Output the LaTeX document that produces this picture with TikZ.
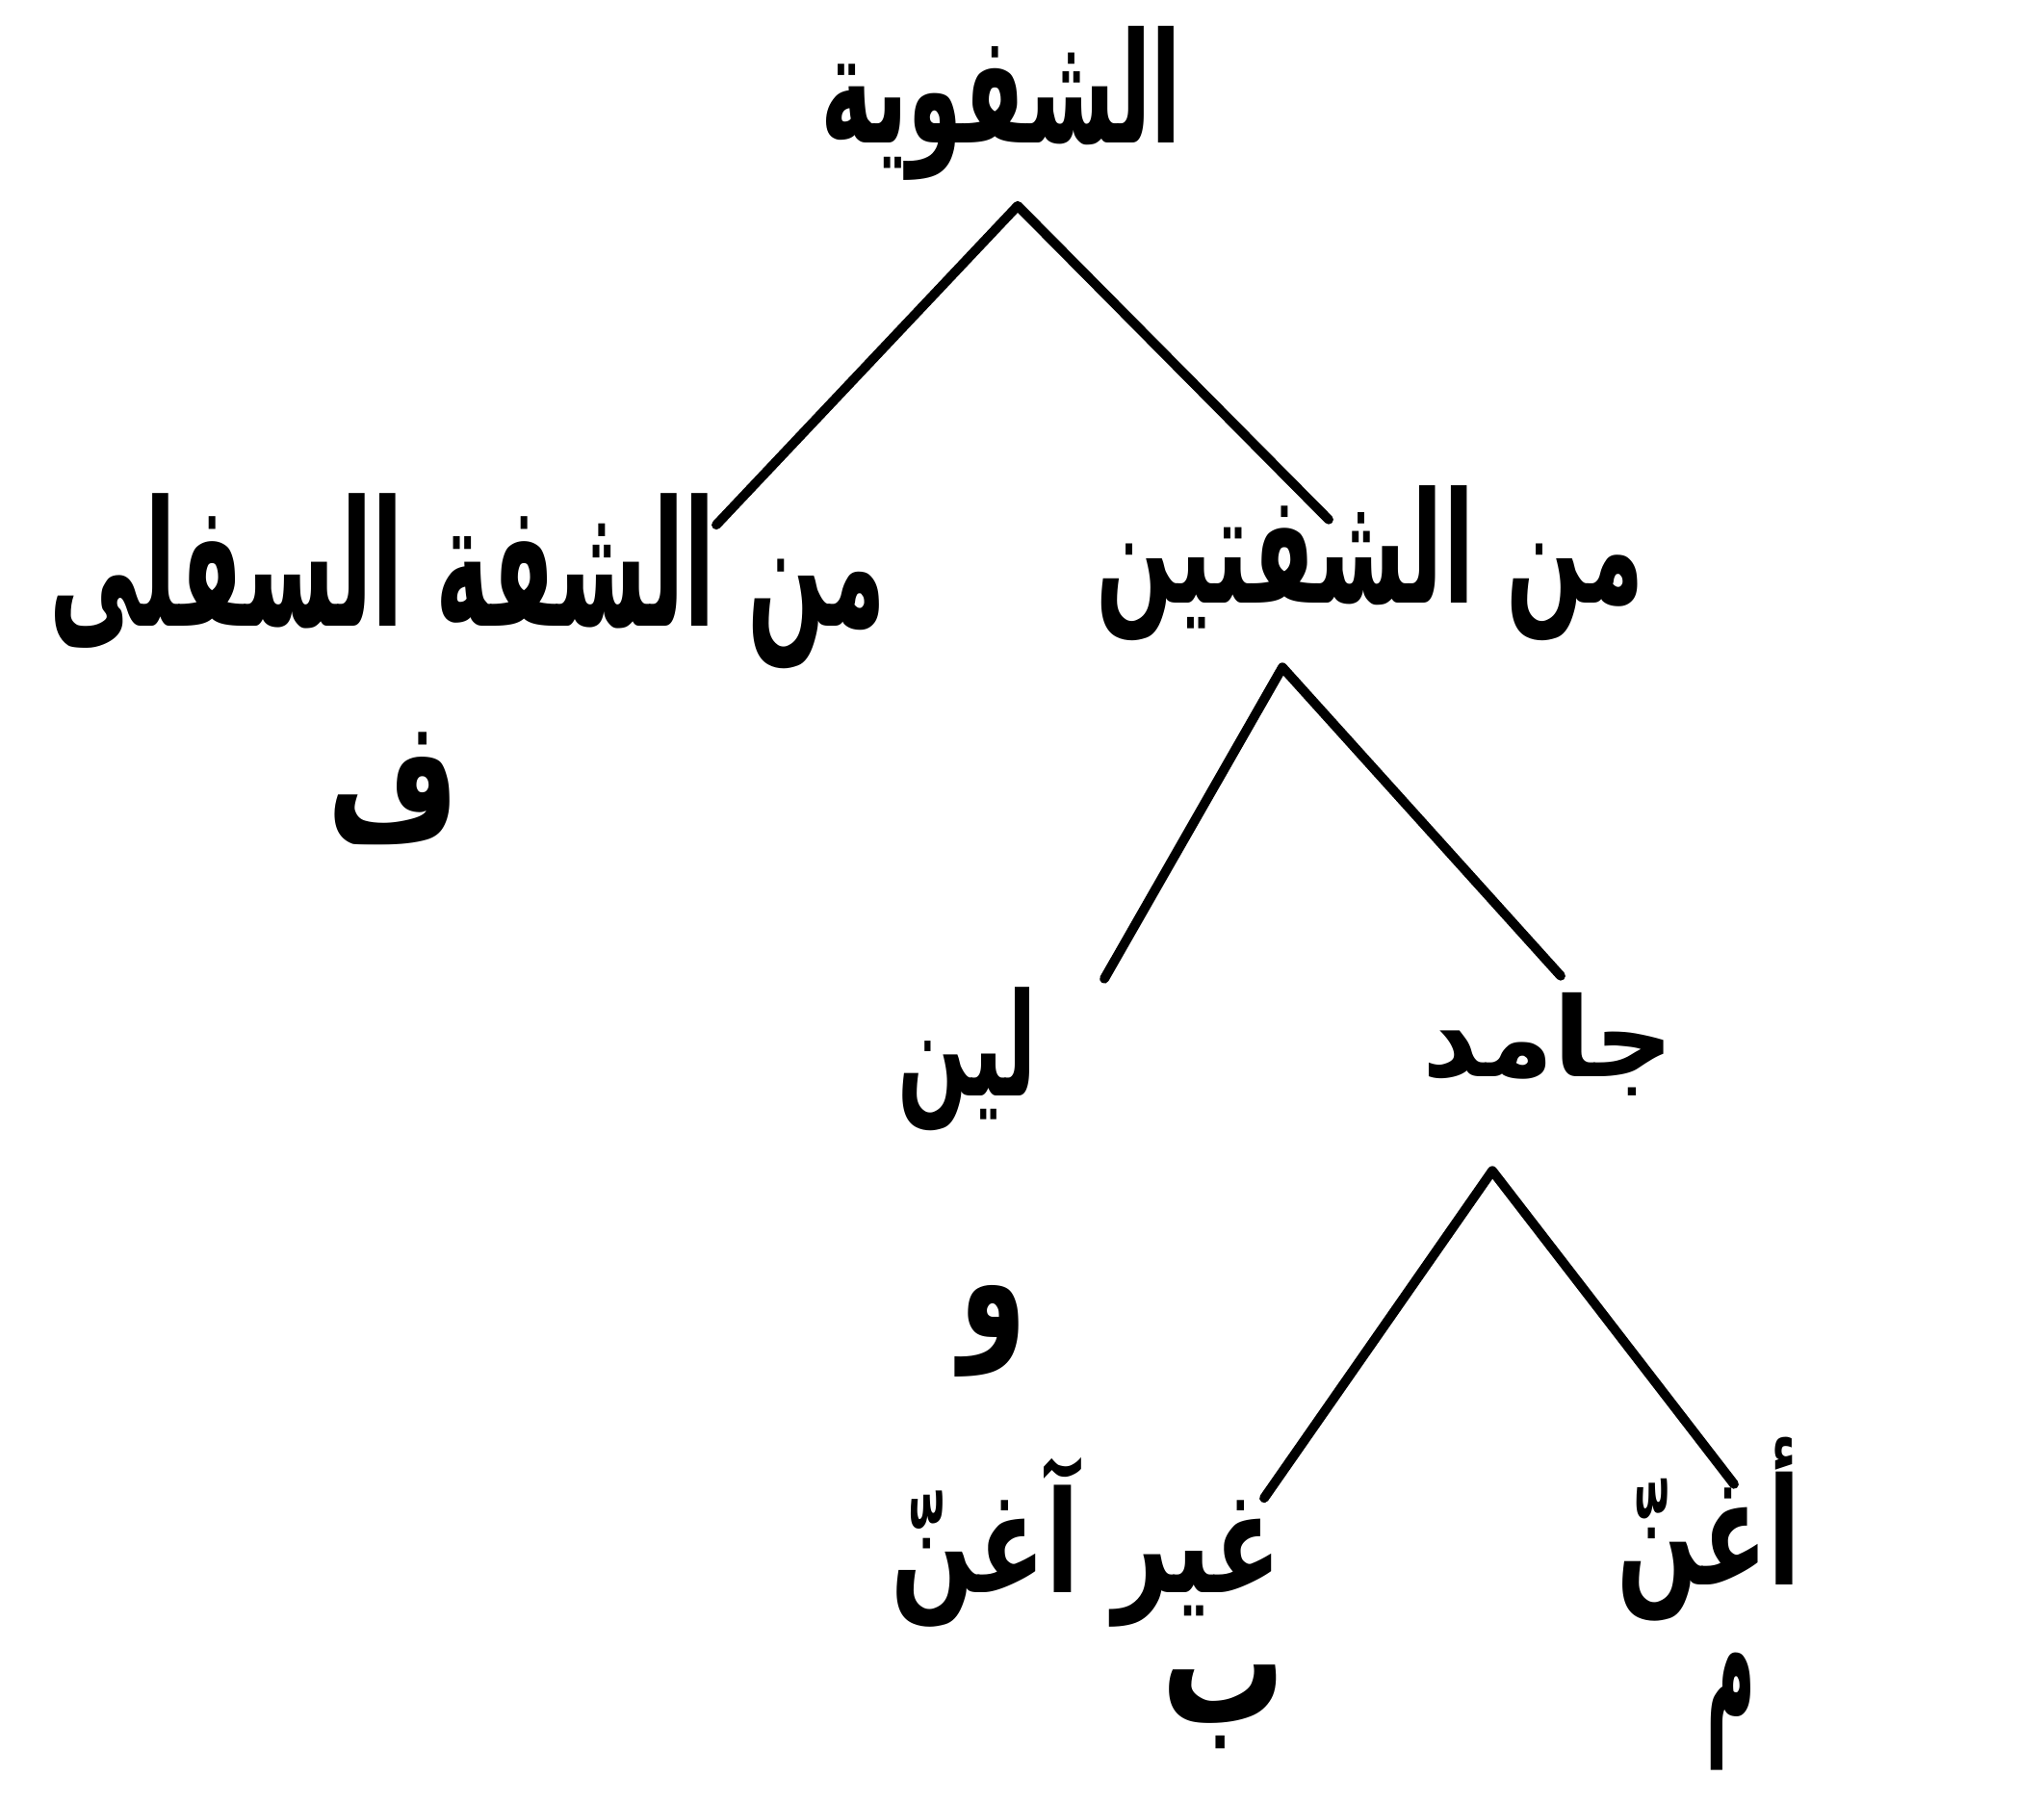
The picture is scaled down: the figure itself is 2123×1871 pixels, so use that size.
\documentclass[tikz,border=0pt]{standalone}
\usepackage{graphicx}
\usepackage{fontspec}
\newfontfamily\arabicfont[Script=Arabic]{DejaVu Sans}
\TeXXeTstate=1
\newcommand{\ar}[3]{\resizebox*{#1cm}{#2cm}{\arabicfont\bfseries #3}}

\begin{document}
\begin{tikzpicture}[x=0.01cm,y=-0.01cm,branch/.style={line width=2.8pt,line cap=round,line join=round}]
	\useasboundingbox (0,0) rectangle (2123,1871);
	\begin{scope}[every node/.style={inner sep=0pt,font=\fontsize{26}{30}\selectfont}]
	\node (A) at (1040,107) {\ar{3.75}{1.60}{\beginR الشفوية\endR}};
	\node (B) at (486,604) {\ar{8.69}{1.82}{\beginR من الشفة السفلى\endR}};
	\node (C) at (1423,585) {\ar{5.69}{1.61}{\beginR من الشفتين\endR}};
	\node (D) at (409,819) {\ar{1.36}{1.17}{\beginR ف\endR}};
	\node (E) at (1005,1100) {\ar{1.44}{1.49}{\beginR لين\endR}};
	\node (F) at (1608,1085) {\ar{2.61}{1.07}{\beginR جامد\endR}};
	\node (G) at (1032,1383) {\ar{0.70}{0.95}{\beginR و\endR}};
	\node (H) at (1128,1602) {\ar{4.05}{1.76}{\beginR غير آغنّ\endR}};
	\node (I) at (1775,1589) {\ar{1.90}{1.91}{\beginR أغنّ\endR}};
	\node (J) at (1271,1773) {\ar{1.29}{0.87}{\beginR ب\endR}};
	\node (K) at (1798,1778) {\ar{0.51}{1.22}{\beginR م\endR}};
	\end{scope}
	\draw [branch] ([shift={(258,33)}]B.north) -- ([shift={(17,26)}]A.south) -- ([shift={(-43,36)}]C.north);
	\draw [branch] ([shift={(142,-8)}]E.north) -- ([shift={(-91,27)}]C.south) -- ([shift={(13,-17)}]F.north);
	\draw [branch] ([shift={(185,43)}]H.north) -- ([shift={(-58,77)}]F.south) -- ([shift={(26,49)}]I.north);
\end{tikzpicture}
\end{document}
